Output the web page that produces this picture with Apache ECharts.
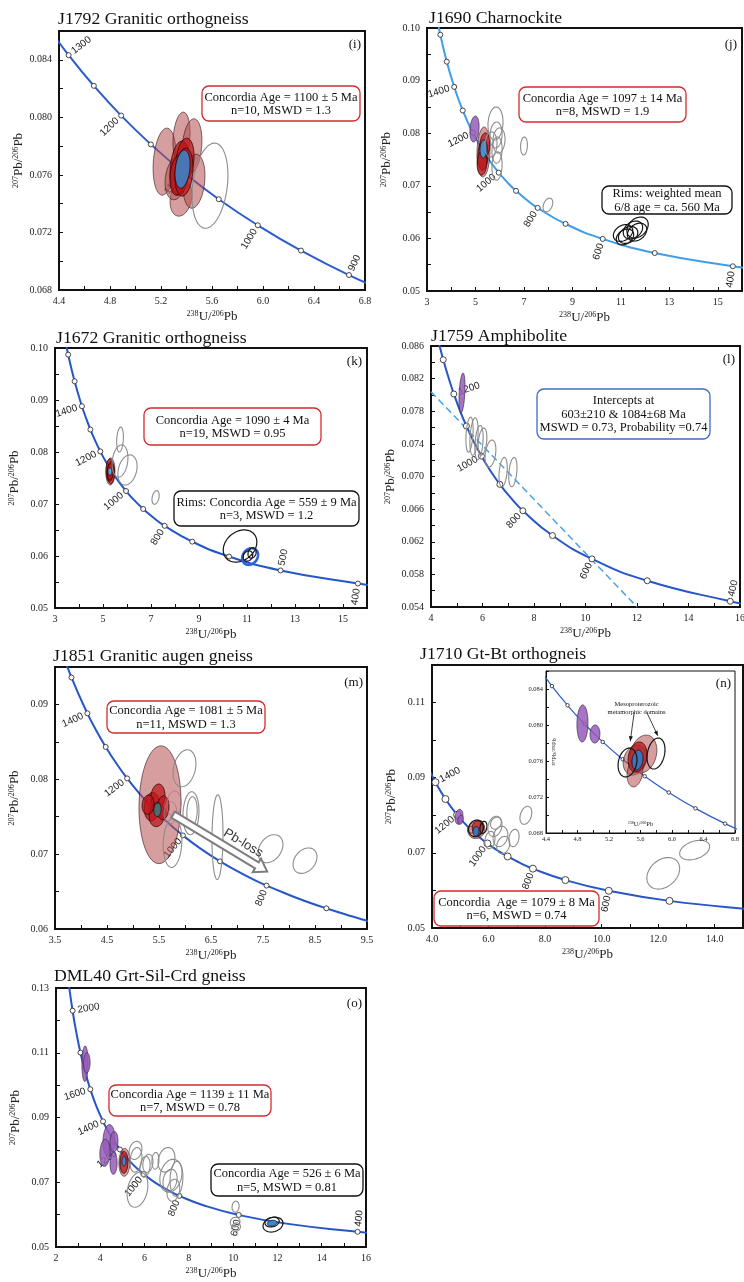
<!DOCTYPE html>
<html>
<head>
<meta charset="utf-8">
<title>U-Pb concordia diagrams</title>
<script src="https://cdn.jsdelivr.net/npm/echarts@6.0.0/dist/echarts.min.js"></script>
<style>
  html, body { margin: 0; padding: 0; background: #fff; }
  #chart { width: 744px; height: 1282px; }
</style>
</head>
<body>
<div id="chart"></div>
<script>
// Tera-Wasserburg concordia nodes: age (Ma), 238U/206Pb, 207Pb/206Pb
const CONCORDIA = [
  [2200, 2.4586, 0.13782], [2100, 2.5968, 0.13015], [2000, 2.7490, 0.12299],
  [1900, 2.9174, 0.11629], [1800, 3.1046, 0.11004], [1700, 3.3139, 0.10419],
  [1600, 3.5497, 0.09872], [1500, 3.8170, 0.09360], [1400, 4.1227, 0.08881],
  [1350, 4.2926, 0.08653], [1300, 4.4755, 0.08432], [1250, 4.6733, 0.08219],
  [1200, 4.8875, 0.08012], [1150, 5.1204, 0.07812], [1100, 5.3746, 0.07619],
  [1050, 5.6530, 0.07431], [1000, 5.9593, 0.07250], [950, 6.2980, 0.07074],
  [900, 6.6743, 0.06904], [850, 7.0950, 0.06740], [800, 7.5684, 0.06580],
  [700, 8.7182, 0.06276], [600, 10.2518, 0.05990], [500, 12.399, 0.05722],
  [400, 15.621, 0.05470], [380, 16.469, 0.05422]
];

// axes: min, max, tick step, label step, decimals
const I_X = [4.4, 6.8, 0.2, 0.4, 1];
const I_Y = [0.068, 0.086, 0.002, 0.004, 3];
const J_X = [3, 16, 1, 2, 0];
const J_Y = [0.05, 0.10, 0.005, 0.01, 2];
const K_X = [3, 16, 1, 2, 0];
const K_Y = [0.05, 0.10, 0.005, 0.01, 2];
const L_X = [4, 16, 1, 2, 0];
const L_Y = [0.054, 0.086, 0.002, 0.004, 3];
const M_X = [3.5, 9.5, 0.5, 1, 1];
const M_Y = [0.06, 0.095, 0.005, 0.01, 2];
const N_X = [4, 15, 1, 2, 1];
const N_Y = [0.05, 0.12, 0.01, 0.02, 2];
const O_X = [2, 16, 1, 2, 0];
const O_Y = [0.05, 0.13, 0.01, 0.02, 2];

// age marks on the concordia and which of them carry a label
const I_MARKS = [1300, 1250, 1200, 1150, 1100, 1050, 1000, 950, 900];
const STD_MARKS = [1600, 1500, 1400, 1300, 1200, 1100, 1000, 900, 800, 700, 600, 500, 400];
const O_MARKS = [2000, 1800, 1600, 1400, 1200, 1000, 800, 600, 400];
const I_LABELS = [1300, 1200, 1100, 1000, 900];
const J_LABELS = [1400, 1200, 1000, 800, 600, 400];
const K_LABELS = [1400, 1200, 1000, 800, 500, 400];
const L_LABELS = [1200, 1000, 800, 600, 400];
const M_LABELS = [1400, 1200, 1000, 800];
const N_LABELS = [1400, 1200, 1000, 800, 600];
const NI_LABELS = [1250, 1150, 1050, 950];
const O_LABELS = [2000, 1600, 1400, 1200, 1000, 800, 600, 400];

// error ellipses: 238U/206Pb, 207Pb/206Pb, half-width, half-height, rho, group
const I_ELL = [
  [5.228, 0.07692, 0.090, 0.00233, 0.2, 'conc'], [5.361, 0.07859, 0.067, 0.00177, 0.2, 'conc'],
  [5.443, 0.07800, 0.078, 0.00190, 0.2, 'conc'], [5.357, 0.07438, 0.086, 0.00125, 0.2, 'conc'],
  [5.459, 0.07556, 0.086, 0.00188, 0.2, 'conc'], [5.318, 0.07577, 0.086, 0.00150, 0.2, 'conc'],
  [5.349, 0.07647, 0.078, 0.00188, 0.2, 'concIn'], [5.388, 0.07702, 0.071, 0.00153, 0.2, 'concIn'],
  [5.333, 0.07598, 0.063, 0.00139, 0.2, 'concIn'], [5.380, 0.07619, 0.071, 0.00167, 0.2, 'concIn'],
  [5.369, 0.07640, 0.059, 0.00132, 0.25, 'mean'],
  [5.584, 0.07525, 0.141, 0.00296, 0.25, 'disc']
];
const J_ELL = [
  [4.960, 0.0808, 0.19, 0.00247, 0.2, 'old'],
  [5.332, 0.07643, 0.27, 0.00475, 0.1, 'conc'],
  [5.311, 0.07586, 0.21, 0.0029, 0.1, 'concIn'], [5.39, 0.07776, 0.21, 0.0023, 0.1, 'concIn'],
  [5.27, 0.07433, 0.20, 0.0023, 0.1, 'concIn'],
  [5.332, 0.0770, 0.144, 0.0017, 0.1, 'mean'],
  [5.827, 0.08184, 0.31, 0.00314, 0.1, 'disc'], [5.85, 0.07966, 0.25, 0.00247, 0.1, 'disc'],
  [5.97, 0.07861, 0.25, 0.0024, 0.1, 'disc'], [5.89, 0.0768, 0.21, 0.0025, 0.1, 'disc'],
  [5.89, 0.07376, 0.21, 0.0027, 0.1, 'disc'], [5.64, 0.07785, 0.25, 0.0024, 0.1, 'disc'],
  [7.003, 0.07757, 0.14, 0.0017, 0.1, 'disc'], [7.99, 0.06635, 0.20, 0.0013, 0.35, 'disc'],
  [11.09, 0.06103, 0.40, 0.0016, 0.3, 'rim'], [11.30, 0.06065, 0.40, 0.0016, 0.3, 'rim'],
  [11.50, 0.0616, 0.40, 0.0017, 0.3, 'rim'], [11.69, 0.06207, 0.44, 0.0020, 0.3, 'rim'],
  [11.17, 0.06027, 0.36, 0.0015, 0.3, 'rim'], [11.67, 0.0612, 0.40, 0.0017, 0.3, 'rim']
];
const K_ELL = [
  [5.31, 0.07625, 0.19, 0.0026, 0.05, 'conc'],
  [5.28, 0.0765, 0.15, 0.0022, 0.05, 'concIn'], [5.33, 0.0760, 0.15, 0.0021, 0.05, 'concIn'],
  [5.30, 0.0762, 0.12, 0.0016, 0.05, 'concIn'],
  [5.29, 0.07625, 0.08, 0.0007, 0, 'mean'],
  [5.71, 0.0824, 0.14, 0.0024, 0.2, 'disc'], [5.71, 0.07827, 0.33, 0.0031, 0.2, 'disc'],
  [6.02, 0.07654, 0.40, 0.0029, 0.25, 'disc'], [7.19, 0.07125, 0.15, 0.0013, 0.3, 'disc'],
  [10.71, 0.06192, 0.70, 0.0031, 0.25, 'rim'],
  [11.13, 0.0599, 0.33, 0.0016, 0.2, 'ring'],
  [11.04, 0.0600, 0.20, 0.0010, 0.2, 'rim'], [11.21, 0.06058, 0.17, 0.0010, 0.2, 'rim']
];
const L_ELL = [
  [5.204, 0.08023, 0.117, 0.00245, 0.35, 'old'],
  [5.495, 0.07514, 0.14, 0.00215, 0.3, 'disc'], [5.67, 0.0749, 0.16, 0.0023, 0.3, 'disc'],
  [5.864, 0.07416, 0.16, 0.0021, 0.3, 'disc'], [6.0, 0.07428, 0.17, 0.00166, 0.3, 'disc'],
  [6.31, 0.07281, 0.21, 0.00166, 0.3, 'disc'], [6.80, 0.07054, 0.16, 0.0018, 0.3, 'disc'],
  [7.18, 0.07054, 0.16, 0.0018, 0.3, 'disc']
];
const M_ELL = [
  [5.519, 0.0766, 0.404, 0.00787, 0.05, 'conc'],
  [5.365, 0.07633, 0.15, 0.0019, 0.1, 'concIn'], [5.48, 0.07767, 0.135, 0.0017, 0.1, 'concIn'],
  [5.46, 0.07527, 0.15, 0.0016, 0.1, 'concIn'], [5.577, 0.0762, 0.115, 0.0016, 0.1, 'concIn'],
  [5.29, 0.0766, 0.115, 0.0013, 0.1, 'concIn'],
  [5.79, 0.07673, 0.135, 0.0017, 0.1, 'pale'], [5.72, 0.0755, 0.12, 0.0015, 0.1, 'pale'],
  [5.471, 0.07593, 0.071, 0.0009, 0.1, 'mean'],
  [5.99, 0.08147, 0.22, 0.00247, 0.25, 'disc'], [6.115, 0.07547, 0.154, 0.00287, 0.1, 'disc'],
  [6.135, 0.07567, 0.10, 0.0020, 0.1, 'disc'], [5.76, 0.07153, 0.18, 0.0033, 0.1, 'disc'],
  [6.625, 0.07227, 0.106, 0.00567, 0.05, 'disc'], [7.644, 0.07073, 0.24, 0.00187, 0.3, 'disc'],
  [8.308, 0.06913, 0.23, 0.0017, 0.3, 'disc']
];
const N_ELL = [
  [4.954, 0.0796, 0.14, 0.0020, 0.2, 'old'], [5.01, 0.0788, 0.10, 0.0012, 0.2, 'old'],
  [5.57, 0.0761, 0.30, 0.0023, 0.1, 'conc'],
  [5.63, 0.0768, 0.21, 0.0019, 0.1, 'concIn'],
  [5.555, 0.0757, 0.106, 0.0013, 0.1, 'mean'],
  [5.82, 0.0768, 0.124, 0.0016, 0.2, 'rim'], [5.555, 0.0765, 0.26, 0.0022, 0.1, 'rim'],
  [6.226, 0.07705, 0.25, 0.0027, 0.2, 'disc'], [6.42, 0.07436, 0.26, 0.0027, 0.2, 'disc'],
  [6.52, 0.07208, 0.23, 0.0023, 0.2, 'disc'], [6.05, 0.07342, 0.18, 0.0023, 0.2, 'disc'],
  [6.26, 0.0779, 0.19, 0.0016, 0.2, 'disc'], [7.32, 0.0800, 0.21, 0.0024, 0.3, 'disc'],
  [6.90, 0.07396, 0.18, 0.0023, 0.2, 'disc'], [12.18, 0.06456, 0.58, 0.0042, 0.3, 'disc'],
  [13.29, 0.07074, 0.53, 0.0026, 0.35, 'disc']
];
const NI_ELL = [
  [4.863, 0.08017, 0.07, 0.00206, 0.05, 'old'], [5.022, 0.0790, 0.063, 0.0010, 0.05, 'old'],
  [5.53, 0.07611, 0.15, 0.00167, 0.2, 'conc'], [5.638, 0.07678, 0.17, 0.0021, 0.2, 'conc'],
  [5.53, 0.07472, 0.10, 0.0016, 0.2, 'conc'],
  [5.562, 0.07644, 0.12, 0.00167, 0.2, 'concIn'],
  [5.562, 0.07611, 0.07, 0.0011, 0.2, 'mean'],
  [5.435, 0.07583, 0.12, 0.0016, 0.2, 'rim'], [5.797, 0.07683, 0.114, 0.00172, 0.25, 'rim']
];
const O_ELL = [
  [3.31, 0.1066, 0.14, 0.0055, 0.05, 'old'], [3.39, 0.1069, 0.15, 0.0031, 0.05, 'old'],
  [4.39, 0.08292, 0.27, 0.0049, 0.1, 'old'], [4.21, 0.07908, 0.23, 0.0042, 0.1, 'old'],
  [4.62, 0.08246, 0.18, 0.0032, 0.1, 'old'], [4.60, 0.07585, 0.16, 0.0034, 0.05, 'old'],
  [5.09, 0.07615, 0.25, 0.0043, 0.05, 'conc'],
  [5.07, 0.07615, 0.18, 0.0034, 0.05, 'concIn'],
  [5.07, 0.07646, 0.09, 0.0015, 0.05, 'mean'],
  [5.59, 0.07985, 0.29, 0.0028, 0.2, 'disc'], [5.61, 0.07692, 0.27, 0.0038, 0.2, 'disc'],
  [6.02, 0.07477, 0.23, 0.0032, 0.2, 'disc'], [6.15, 0.07585, 0.23, 0.0028, 0.2, 'disc'],
  [5.68, 0.06769, 0.47, 0.0054, 0.25, 'disc'], [6.99, 0.07692, 0.38, 0.0038, 0.2, 'disc'],
  [7.19, 0.0720, 0.50, 0.0051, 0.2, 'disc'], [7.15, 0.07062, 0.32, 0.0034, 0.2, 'disc'],
  [7.44, 0.07108, 0.29, 0.0054, 0.1, 'disc'], [7.30, 0.06754, 0.29, 0.0034, 0.2, 'disc'],
  [6.49, 0.07662, 0.16, 0.0026, 0.1, 'disc'], [10.11, 0.06246, 0.16, 0.0017, 0.1, 'disc'],
  [10.09, 0.05769, 0.22, 0.0015, 0.1, 'disc'], [10.13, 0.05615, 0.20, 0.0013, 0.1, 'disc'],
  [11.80, 0.05692, 0.45, 0.0023, 0.2, 'rim'], [11.76, 0.05769, 0.32, 0.0015, 0.2, 'rim'],
  [11.76, 0.05738, 0.22, 0.0009, 0.2, 'mean']
];

// other marks
const L_DISCORDIA = [[4.0, 0.0804], [12.0, 0.054]];
const M_ARROW = [[5.77, 0.07527], [7.58, 0.06767]];
const NI_ARROWS = [[[5.52, 0.0814], [5.47, 0.0782]], [[5.68, 0.0814], [5.82, 0.0788]]];

const SERIF = '"Liberation Serif", "Times New Roman", serif';
const SANS = '"Liberation Sans", Arial, sans-serif';
const X_NAME = '{s|238}U/{s|206}Pb';
const Y_NAME = '{s|207}Pb/{s|206}Pb';

const PANELS = [
  {title: 'J1792 Granitic orthogneiss', tt: [58, 10], box: [59, 31, 306, 259], xa: I_X, ya: I_Y, ell: I_ELL,
   marks: I_MARKS, labels: I_LABELS, up: [1300, 900], curve: '#2b5ccb', mean: '#4a76b3', dot: 5},
  {title: 'J1690 Charnockite', tt: [429, 9], box: [427, 28, 315, 263], xa: J_X, ya: J_Y, ell: J_ELL,
   marks: STD_MARKS, labels: J_LABELS, up: [], curve: '#3f9de9', mean: '#4b8fd0', dot: 5},
  {title: 'J1672 Granitic orthogneiss', tt: [56, 329], box: [55, 348, 312, 260], xa: K_X, ya: K_Y, ell: K_ELL,
   marks: STD_MARKS, labels: K_LABELS, up: [500], curve: '#2656c8', mean: '#5aaae6', dot: 5},
  {title: 'J1759 Amphibolite', tt: [431, 327], box: [431, 346, 309, 261], xa: L_X, ya: L_Y, ell: L_ELL,
   marks: STD_MARKS, labels: L_LABELS, up: [1200, 400], curve: '#2656c8', mean: '#4a76b3', dot: 6},
  {title: 'J1851 Granitic augen gneiss', tt: [53, 647], box: [55, 667, 312, 262], xa: M_X, ya: M_Y, ell: M_ELL,
   marks: STD_MARKS, labels: M_LABELS, up: [], curve: '#2656c8', mean: '#4e6b70', dot: 5},
  {title: 'J1710 Gt-Bt orthogneis', tt: [420, 645], box: [432, 665, 311, 263], xa: N_X, ya: N_Y, ell: N_ELL,
   marks: STD_MARKS, labels: N_LABELS, up: [1400], curve: '#2656c8', mean: '#3f72b8', dot: 7},
  {title: 'DML40 Grt-Sil-Crd gneiss', tt: [54, 967], box: [56, 988, 310, 259], xa: O_X, ya: O_Y, ell: O_ELL,
   marks: O_MARKS, labels: O_LABELS, up: [2000, 400], curve: '#2656c8', mean: '#3f86cf', dot: 5},
  {inset: true, box: [546, 671, 189, 162], xa: I_X, ya: I_Y, ell: NI_ELL,
   marks: I_MARKS, labels: NI_LABELS, up: [], curve: '#2b5ccb', mean: '#3f72b8', dot: 3.5}
];

const BOXES = [
  {r: [202, 86, 158, 35], c: '#d42a2e', t: 'Concordia Age = 1100 ± 5 Ma\nn=10, MSWD = 1.3'},
  {r: [519, 87, 167, 35], c: '#d42a2e', t: 'Concordia Age = 1097 ± 14 Ma\nn=8, MSWD = 1.9'},
  {r: [602, 186, 130, 28], c: '#111', t: 'Rims: weighted mean\n6/8 age = ca. 560 Ma'},
  {r: [144, 408, 177, 37], c: '#d42a2e', t: 'Concordia Age = 1090 ± 4 Ma\nn=19, MSWD = 0.95'},
  {r: [174, 491, 185, 35], c: '#111', t: 'Rims: Concordia Age = 559 ± 9 Ma\nn=3, MSWD = 1.2'},
  {r: [537, 389, 173, 50], c: '#3d6cc5', t: 'Intercepts at\n603±210 & 1084±68 Ma\nMSWD = 0.73, Probability =0.74'},
  {r: [107, 701, 158, 32], c: '#d42a2e', t: 'Concordia Age = 1081 ± 5 Ma\nn=11, MSWD = 1.3'},
  {r: [434, 891, 165, 35], c: '#d42a2e', t: 'Concordia  Age = 1079 ± 8 Ma\nn=6, MSWD = 0.74'},
  {r: [109, 1085, 162, 31], c: '#d42a2e', t: 'Concordia Age = 1139 ± 11 Ma\nn=7, MSWD = 0.78'},
  {r: [211, 1164, 152, 32], c: '#111', t: 'Concordia Age = 526 ± 6 Ma\nn=5, MSWD = 0.81'}
];
const TAGS = [['(i)', 361, 45], ['(j)', 737, 45], ['(k)', 362, 362], ['(l)', 735, 360],
  ['(m)', 363, 683], ['(n)', 731, 684], ['(o)', 362, 1004]];

function fmt(ax) {
  return function (v) {
    const k = (v - ax[0]) / ax[3];
    return Math.abs(k - Math.round(k)) < 1e-4 ? v.toFixed(ax[4]) : '';
  };
}

function nameStyle(fs) {
  return {fontFamily: SERIF, fontSize: fs, color: '#222', lineHeight: fs,
    rich: {s: {fontFamily: SERIF, fontSize: fs * 0.62, lineHeight: fs * 0.62, verticalAlign: 'top', color: '#222'}}};
}

function ellStyle(g, p) {
  if (g === 'disc') return {fill: 'none', stroke: '#8d8d8d', lineWidth: 1.1};
  if (g === 'rim') return {fill: 'none', stroke: '#151515', lineWidth: 1.2};
  if (g === 'conc') return {fill: 'rgba(180,78,78,0.55)', stroke: 'rgba(45,15,15,0.85)', lineWidth: 0.7};
  if (g === 'concIn') return {fill: 'rgba(188,20,24,0.72)', stroke: '#2b0808', lineWidth: 0.8};
  if (g === 'old') return {fill: 'rgba(150,92,185,0.85)', stroke: '#3b2b4d', lineWidth: 0.7};
  if (g === 'pale') return {fill: 'none', stroke: 'rgba(170,120,135,0.9)', lineWidth: 1};
  if (g === 'ring') return {fill: 'none', stroke: '#2f62d6', lineWidth: 2.6};
  return {fill: p.mean, stroke: '#14141e', lineWidth: 0.8};
}

const grids = [], xAxes = [], yAxes = [], series = [];
PANELS.forEach(function (p, i) {
  const small = !!p.inset;
  const fs = small ? 6.5 : 10;
  grids.push({left: p.box[0], top: p.box[1], width: p.box[2], height: p.box[3], show: true,
    backgroundColor: '#fff', borderColor: '#111', borderWidth: small ? 1 : 2,
    containLabel: false, outerBoundsMode: 'none', z: small ? 5 : 0});
  const axisCommon = {
    gridIndex: i, type: 'value', splitLine: {show: false}, z: small ? 6 : 1,
    axisLine: {show: true, onZero: false, lineStyle: {color: '#111', width: small ? 1 : 2}},
    axisTick: {show: true, inside: true, length: small ? 3 : 4, lineStyle: {color: '#111', width: 1}},
    nameLocation: 'middle', nameTextStyle: nameStyle(small ? 6.5 : 13)
  };
  xAxes.push(Object.assign({}, axisCommon, {
    min: p.xa[0], max: p.xa[1], interval: p.xa[2], name: X_NAME, nameGap: small ? -12 : 20,
    axisLabel: {formatter: fmt(p.xa), fontFamily: SERIF, fontSize: fs, color: '#222', margin: small ? 3 : 6, hideOverlap: false}
  }));
  yAxes.push(Object.assign({}, axisCommon, {
    min: p.ya[0], max: p.ya[1], interval: p.ya[2], name: Y_NAME, nameGap: small ? -12 : 34,
    axisLabel: {formatter: fmt(p.ya), fontFamily: SERIF, fontSize: fs, color: '#222', margin: small ? 3 : 7, hideOverlap: false}
  }));
  const base = small ? 10 : 2;
  series.push({type: 'line', xAxisIndex: i, yAxisIndex: i, data: CONCORDIA.map(r => [r[1], r[2]]),
    smooth: 0.5, showSymbol: false, silent: true, clip: true, animation: false, z: base,
    lineStyle: {color: p.curve, width: small ? 1.2 : 2}});
  if (i === 3) {
    series.push({type: 'line', xAxisIndex: i, yAxisIndex: i, data: L_DISCORDIA, showSymbol: false,
      silent: true, clip: true, animation: false, z: base,
      lineStyle: {color: '#4aa3e8', width: 1.5, type: [7, 4]}});
  }
  series.push({type: 'scatter', xAxisIndex: i, yAxisIndex: i, clip: true, silent: true, animation: false,
    data: CONCORDIA.filter(r => p.marks.indexOf(r[0]) >= 0).map(r => [r[1], r[2]]),
    symbol: 'circle', symbolSize: p.dot, z: base + 1,
    itemStyle: {color: '#fff', borderColor: '#333', borderWidth: 0.9, opacity: 1}});
  const rows = p.ell;
  series.push({type: 'custom', xAxisIndex: i, yAxisIndex: i, clip: true, silent: true, animation: false,
    z: base + 2, data: rows.map(r => r.slice(0, 5)),
    renderItem: function (params, api) {
      const r = rows[params.dataIndex];
      const s = Math.sqrt(1 - r[4] * r[4]);
      const pts = [];
      for (let k = 0; k < 64; k++) {
        const t = k / 64 * Math.PI * 2;
        pts.push(api.coord([r[0] + r[2] * Math.cos(t), r[1] + r[3] * (r[4] * Math.cos(t) + s * Math.sin(t))]));
      }
      return {type: 'polygon', shape: {points: pts}, style: ellStyle(r[5], p)};
    }});
});

const chart = echarts.init(document.getElementById('chart'));
chart.setOption({
  animation: false,
  backgroundColor: '#fff',
  grid: grids, xAxis: xAxes, yAxis: yAxes, series: series
});

// annotations placed through the axes of each grid
const G = [];
PANELS.forEach(function (p, gi) {
  if (p.title) {
    G.push({type: 'text', z: 60, x: p.tt[0], y: p.tt[1],
      style: {text: p.title, font: '17.7px ' + SERIF, fill: '#111', align: 'left', verticalAlign: 'top'}});
  }
  const small = !!p.inset;
  p.labels.forEach(function (age) {
    const idx = CONCORDIA.findIndex(r => r[0] === age);
    const a = CONCORDIA[Math.max(idx - 1, 0)], b = CONCORDIA[Math.min(idx + 1, CONCORDIA.length - 1)];
    const pa = chart.convertToPixel({gridIndex: gi}, [a[1], a[2]]);
    const pb = chart.convertToPixel({gridIndex: gi}, [b[1], b[2]]);
    const pc = chart.convertToPixel({gridIndex: gi}, [CONCORDIA[idx][1], CONCORDIA[idx][2]]);
    let tx = pb[0] - pa[0], ty = pb[1] - pa[1];
    const L = Math.hypot(tx, ty); tx /= L; ty /= L;
    const nx = ty, ny = -tx;
    const txt = String(age);
    const fsz = small ? 6 : 10;
    const d = txt.length * fsz * 0.278 + (small ? 3 : 5);
    const side = p.up.indexOf(age) >= 0 ? 1 : -1;
    G.push({type: 'text', z: 1, x: pc[0] + side * d * nx, y: pc[1] + side * d * ny,
      rotation: Math.atan2(tx, ty),
      style: {text: txt, font: fsz + 'px ' + SANS, fill: '#222', align: 'center', verticalAlign: 'middle'}});
  });
});

BOXES.forEach(function (b) {
  G.push({type: 'rect', z: 60, shape: {x: b.r[0], y: b.r[1], width: b.r[2], height: b.r[3], r: 7},
    style: {fill: '#fff', stroke: b.c, lineWidth: 1.3}});
  G.push({type: 'text', z: 61, x: b.r[0] + b.r[2] / 2, y: b.r[1] + b.r[3] / 2 + 0.5,
    style: {text: b.t, font: '12.5px ' + SERIF, fill: '#111', align: 'center', verticalAlign: 'middle', lineHeight: 13.5}});
});

TAGS.forEach(function (t) {
  G.push({type: 'text', z: 60, x: t[1], y: t[2],
    style: {text: t[0], font: '13px ' + SERIF, fill: '#111', align: 'right', verticalAlign: 'middle'}});
});

// Pb-loss hollow arrow
(function () {
  const S = chart.convertToPixel({gridIndex: 4}, M_ARROW[0]);
  const E = chart.convertToPixel({gridIndex: 4}, M_ARROW[1]);
  let ux = E[0] - S[0], uy = E[1] - S[1];
  const len = Math.hypot(ux, uy); ux /= len; uy /= len;
  const vx = -uy, vy = ux, w = 3.5, h = 8, hl = 12;
  const bx = E[0] - ux * hl, by = E[1] - uy * hl;
  const pts = [[S[0] + vx * w, S[1] + vy * w], [bx + vx * w, by + vy * w], [bx + vx * h, by + vy * h], E,
    [bx - vx * h, by - vy * h], [bx - vx * w, by - vy * w], [S[0] - vx * w, S[1] - vy * w]];
  G.push({type: 'polygon', z: 55, shape: {points: pts}, style: {fill: '#fff', stroke: '#7d7d7d', lineWidth: 2}});
  const m = 0.68;
  G.push({type: 'text', z: 55, x: S[0] + ux * len * m + uy * 12, y: S[1] + uy * len * m - ux * 12,
    rotation: -Math.atan2(uy, ux),
    style: {text: 'Pb-loss', font: '13px ' + SANS, fill: '#333', align: 'center', verticalAlign: 'middle'}});
})();

// inset note and arrows
(function () {
  const c = chart.convertToPixel({gridIndex: 7}, [5.55, 0.0819]);
  G.push({type: 'text', z: 60, x: c[0], y: c[1],
    style: {text: 'Mesoproterozoic\nmetamorphic domains', font: '6.5px ' + SERIF, fill: '#111', align: 'center', verticalAlign: 'middle', lineHeight: 8}});
  NI_ARROWS.forEach(function (ar) {
    const s = chart.convertToPixel({gridIndex: 7}, ar[0]);
    const e = chart.convertToPixel({gridIndex: 7}, ar[1]);
    let ux = e[0] - s[0], uy = e[1] - s[1];
    const l = Math.hypot(ux, uy); ux /= l; uy /= l;
    G.push({type: 'line', z: 60, shape: {x1: s[0], y1: s[1], x2: e[0], y2: e[1]}, style: {stroke: '#111', lineWidth: 0.8}});
    G.push({type: 'polygon', z: 60, shape: {points: [e, [e[0] - ux * 5 - uy * 2, e[1] - uy * 5 + ux * 2], [e[0] - ux * 5 + uy * 2, e[1] - uy * 5 - ux * 2]]},
      style: {fill: '#111'}});
  });
})();

chart.setOption({graphic: {elements: G}});
</script>
</body>
</html>
